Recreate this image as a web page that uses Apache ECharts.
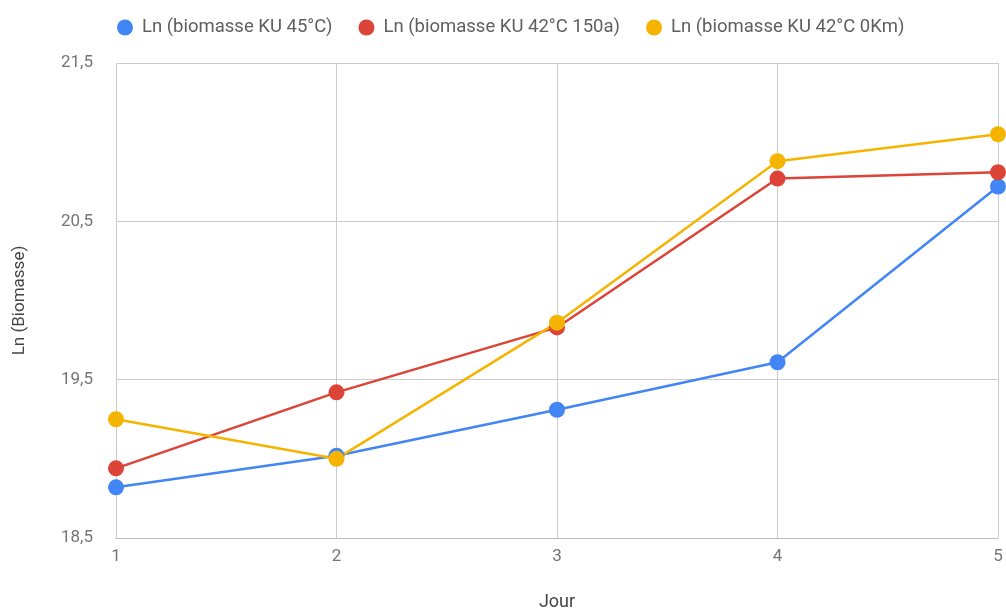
<!DOCTYPE html>
<html>
<head>
<meta charset="utf-8">
<script src="https://cdn.jsdelivr.net/npm/echarts@6/dist/echarts.min.js"></script>
<style>html,body{margin:0;padding:0;background:#fff}#c{width:1006px;height:612px}</style>
</head>
<body>
<div id="c"></div>
<script>
const days = [1, 2, 3, 4, 5];
const seriesNames = ['Ln (biomasse KU 45°C)', 'Ln (biomasse KU 42°C 150a)', 'Ln (biomasse KU 42°C 0Km)'];
const ku45 = [18.82, 19.02, 19.31, 19.61, 20.72];
const ku42_150a = [18.94, 19.42, 19.83, 20.77, 20.81];
const ku42_0km = [19.25, 19.00, 19.86, 20.88, 21.05];
const yTicks = [18.5, 19.5, 20.5, 21.5];
const colors = ['#4285F4', '#DB4437', '#F4B400'];

const allSeries = [ku45, ku42_150a, ku42_0km];
const chart = echarts.init(document.getElementById('c'));
const fontFamily = 'Roboto, "Noto Sans", sans-serif';
chart.setOption({
  animation: false,
  textStyle: { fontFamily },
  color: colors,
  legend: {
    left: 112, top: 13,
    icon: 'circle', itemWidth: 16, itemHeight: 16, itemGap: 26,
    textStyle: { fontSize: 18.5, color: '#5f5f5f', fontFamily, padding: [0, 0, 0, 4] },
    data: seriesNames
  },
  grid: { left: 116, right: 8, top: 63, bottom: 74, containLabel: false, outerBoundsMode: 'none' },
  xAxis: {
    type: 'value', min: 1, max: 5, interval: 1,
    name: 'Jour', nameLocation: 'middle', nameGap: 55,
    nameTextStyle: { fontSize: 18, color: '#444', fontFamily },
    axisLine: { show: true, lineStyle: { color: '#bbb', width: 1 } },
    axisTick: { show: false },
    axisLabel: { fontSize: 17, color: '#757575', margin: 10, fontFamily },
    splitLine: { show: true, lineStyle: { color: '#ccc', width: 1 } }
  },
  yAxis: {
    type: 'value', min: 18.5, max: 21.5, interval: 1,
    name: 'Ln (Biomasse)', nameLocation: 'middle', nameGap: 88, nameRotate: 90,
    nameTextStyle: { fontSize: 17, color: '#444', fontFamily },
    axisLine: { show: false },
    axisTick: { show: false },
    axisLabel: { fontSize: 17, color: '#757575', margin: 23, fontFamily,
      formatter: v => yTicks.includes(+v.toFixed(1)) ? v.toFixed(1).replace('.', ',') : '' },
    splitLine: { show: true, lineStyle: { color: '#ccc', width: 1 } }
  },
  series: allSeries.map((vals, i) => ({
    name: seriesNames[i],
    type: 'line',
    data: days.map((d, j) => [d, vals[j]]),
    symbol: 'circle', symbolSize: 16,
    lineStyle: { width: 2.5 },
    itemStyle: { color: colors[i] },
    clip: false
  }))
});
</script>
</body>
</html>
